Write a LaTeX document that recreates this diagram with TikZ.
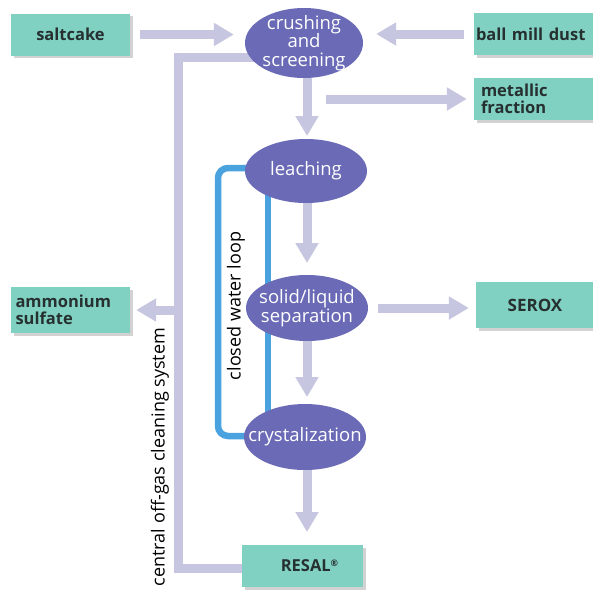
\documentclass[tikz,border=0pt]{standalone}
\usepackage{fontspec}
\setmainfont{Open Sans}
\usetikzlibrary{arrows.meta,shapes.geometric,shadows,backgrounds}
\definecolor{boxc}{HTML}{80D1C2}
\definecolor{ellc}{HTML}{6A6AB6}
\definecolor{flowc}{HTML}{C6C6E0}
\definecolor{loopc}{HTML}{4AA3DF}
\definecolor{txtc}{HTML}{263030}
\tikzset{
  boxn/.style={draw=none,fill=boxc,minimum height=42pt,inner sep=0pt,
    drop shadow={shadow xshift=2.5pt,shadow yshift=-2.5pt,opacity=0.35},
    font=\fontsize{16.5}{17.5}\selectfont\bfseries,text=txtc},
  elln/.style={ellipse,fill=ellc,inner xsep=-40pt,inner ysep=-14pt,minimum width=122pt,minimum height=64pt,
    font=\fontsize{18.5}{18.5}\selectfont,text=white,align=center},
  flow/.style={line width=9pt,draw=flowc,-{Triangle[width=22pt,length=20pt]}},
  offgas/.style={line width=9pt,draw=flowc},
  wloop/.style={line width=6.5pt,draw=loopc,rounded corners=10pt},
  vlabel/.style={rotate=90,font=\fontsize{18}{19}\selectfont,text=black}
}
\begin{document}
\begin{tikzpicture}[x=1pt,y=-1pt]
\useasboundingbox (0,0) rectangle (593,592);
% boxes
\node[boxn,minimum width=119pt] (salt) at (70.5,34.5) {saltcake};
\node[boxn,minimum width=122pt,minimum height=42pt,text width=118pt,align=left] (ball) at (535,34) {ball mill dust};
\node[boxn,minimum width=122pt,minimum height=42pt,text width=108pt,align=left] (metal) at (535,99) {metallic\\fraction};
\node[boxn,minimum width=119pt,minimum height=46pt,text width=110pt,align=left] (amm) at (70.5,310) {ammonium\\sulfate};
\node[boxn,minimum width=118pt,minimum height=46pt] (serox) at (535,305) {\fontsize{17}{18}\selectfont SEROX};
\node[boxn,minimum width=121pt,minimum height=42pt] (resal) at (302.5,566) {\hspace*{14pt}RESAL\raisebox{5pt}{\fontsize{9}{9}\selectfont\textregistered}};
% ellipses
\node[elln,minimum width=118pt,minimum height=70pt] (crush) at (304,43) {crushing\\and\\screening};
\node[elln] (leach) at (306,171) {leaching};
\node[elln,minimum height=66pt] (solid) at (307,308) {solid/liquid\\separation};
\node[elln,minimum height=66pt] (cryst) at (305,437) {crystalization};
% coordinates
\coordinate (gtop) at (178,57);
\coordinate (gbot) at (178,568);
\coordinate (ltop) at (218,168);
\coordinate (lbot) at (218,436);
\coordinate (rx) at (268,0);
% labels
\node[vlabel] (cwl) at (236,306) {closed water loop};
\node[vlabel] (cog) at (160,457) {central off-gas cleaning system};
\begin{pgfonlayer}{background}
\fill[white] (0,0) rectangle (593,592);
\draw[offgas] (crush.center |- gtop) -- (gtop) -- (gbot) -- (gbot -| resal.west);
\draw[wloop] (leach.center |- ltop) -- (ltop) -- (lbot) -- (cryst.center |- lbot);
\draw[line width=6.5pt,draw=loopc] (rx |- leach.center) -- (rx |- cryst.center);
\end{pgfonlayer}
% flows
\draw[flow,shorten <=10pt,shorten >=11pt] (salt.east) -- (salt.east -| crush.west);
\draw[flow,shorten <=10pt,shorten >=13pt] (ball.west) -- (ball.west -| crush.east);
\draw[flow,shorten <=22pt,shorten >=7pt] (metal.west -| crush.south) -- (metal.west);
\draw[flow,shorten >=6pt] (amm.east -| gtop) -- (amm.east);
\draw[flow,shorten <=10pt,shorten >=7pt] (solid.east) -- (solid.east -| serox.west);
\draw[flow,shorten >=2pt] (307,78) -- (307,138);
\draw[flow] (307,203) -- (307,263);
\draw[flow] (307,341) -- (307,397);
\draw[flow] (307,470) -- (307,532);
\end{tikzpicture}
\end{document}
